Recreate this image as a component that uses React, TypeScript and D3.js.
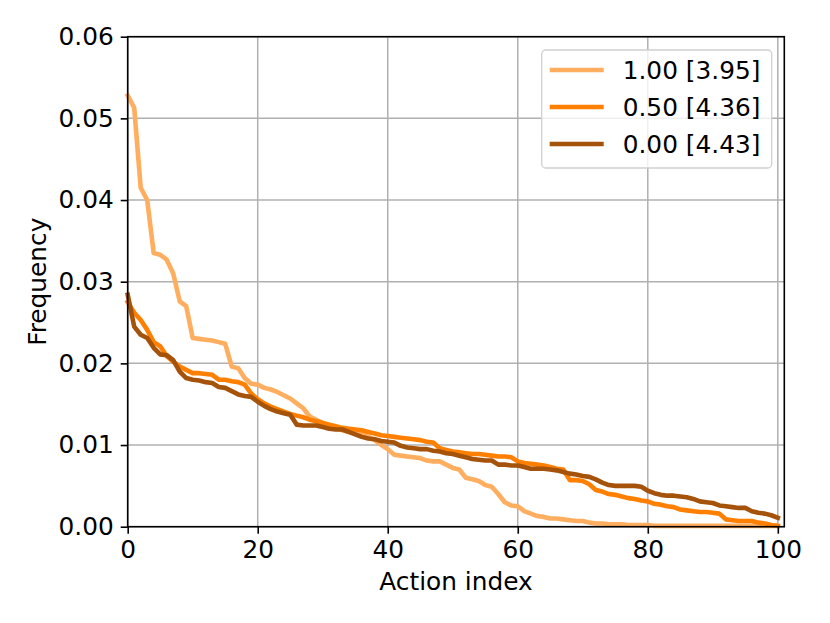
import { useRef, useEffect } from "react";
import * as d3 from "d3";

// frequency per action index (0..100), sorted descending, one array per setting
const freq100 = [
    0.0528, 0.0513, 0.0415, 0.04, 0.0335, 0.0333, 0.0327, 0.031, 0.0276, 0.027,
    0.0231, 0.023, 0.0229, 0.0228, 0.0226, 0.0224, 0.0196, 0.0194, 0.0182, 0.0175,
    0.0174, 0.017, 0.0168, 0.0165, 0.0161, 0.0157, 0.0151, 0.0145, 0.0135, 0.0131,
    0.0127, 0.0124, 0.0121, 0.0118, 0.0116, 0.0115, 0.0113, 0.011, 0.0106, 0.01,
    0.0095, 0.0088, 0.0087, 0.0086, 0.0085, 0.0084, 0.0081, 0.008, 0.008, 0.0076,
    0.0072, 0.007, 0.006, 0.0058, 0.0056, 0.0051, 0.0049, 0.004, 0.003, 0.0026,
    0.0025, 0.0019, 0.0016, 0.0013, 0.0012, 0.001, 0.001, 0.0009, 0.0008, 0.0007,
    0.0007, 0.0005, 0.0004, 0.0004, 0.0003, 0.0003, 0.0003, 0.0002, 0.0002, 0.0002,
    0.0002, 0.0001, 0.0001, 0.0001, 0.0001, 0.0001, 0.0001, 0.0001, 0.0001, 0.0001,
    0.0001, 0.0001, 0.0001, 0.0001, 0.0001, 0.0001, 0.0001, 0.0001, 0.0001, 0.0001,
    0.0001,
];

const freq050 = [
    0.0275, 0.0262, 0.0253, 0.0241, 0.0226, 0.0221, 0.0209, 0.0202, 0.0196, 0.0192,
    0.0188, 0.0188, 0.0187, 0.0186, 0.018, 0.018, 0.0178, 0.0177, 0.0174, 0.0163,
    0.0156, 0.0151, 0.0147, 0.0144, 0.0141, 0.0138, 0.0136, 0.0134, 0.0131, 0.0129,
    0.0127, 0.0125, 0.0123, 0.0121, 0.012, 0.0119, 0.0118, 0.0116, 0.0114, 0.0112,
    0.0111, 0.011, 0.0109, 0.0108, 0.0107, 0.0106, 0.0104, 0.0103, 0.0096, 0.0094,
    0.0092, 0.0091, 0.009, 0.0089, 0.0089, 0.0088, 0.0087, 0.0086, 0.0086, 0.0085,
    0.008, 0.0078, 0.0077, 0.0076, 0.0075, 0.0073, 0.0071, 0.007, 0.0057, 0.0057,
    0.0056, 0.0052, 0.0045, 0.0043, 0.004, 0.0039, 0.0037, 0.0035, 0.0034, 0.0032,
    0.0031, 0.0028, 0.0027, 0.0025, 0.0024, 0.0021, 0.002, 0.0019, 0.0018, 0.0018,
    0.0017, 0.0016, 0.0009, 0.0008, 0.0007, 0.0007, 0.0007, 0.0005, 0.0004, 0.0002,
    0.0001,
];

const freq000 = [
    0.0284, 0.0245, 0.0235, 0.0231, 0.0219, 0.0211, 0.021, 0.0204, 0.019, 0.0182,
    0.018, 0.0179, 0.0177, 0.0176, 0.0171, 0.017, 0.0166, 0.0162, 0.016, 0.0159,
    0.0153, 0.0148, 0.0144, 0.0141, 0.0139, 0.0137, 0.0125, 0.0124, 0.0124, 0.0124,
    0.0122, 0.012, 0.0119, 0.0119, 0.0116, 0.0113, 0.011, 0.0108, 0.0107, 0.0105,
    0.0104, 0.0103, 0.0099, 0.0097, 0.0096, 0.0095, 0.0095, 0.0093, 0.0092, 0.009,
    0.0089, 0.0087, 0.0085, 0.0083, 0.0082, 0.0081, 0.0081, 0.0076, 0.0076, 0.0075,
    0.0075, 0.0073, 0.0071, 0.0071, 0.0071, 0.007, 0.0069, 0.0067, 0.0065, 0.0064,
    0.0062, 0.0061, 0.0058, 0.0054, 0.0051, 0.005, 0.005, 0.005, 0.005, 0.0049,
    0.0044, 0.0041, 0.0039, 0.0038, 0.0038, 0.0037, 0.0036, 0.0034, 0.0031, 0.003,
    0.0029, 0.0026, 0.0025, 0.0024, 0.0023, 0.0023, 0.0019, 0.0017, 0.0016, 0.0014,
    0.0011,
];

const seriesLabels = ["1.00 [3.95]", "0.50 [4.36]", "0.00 [4.43]"];
const seriesColors = ["#ffad5f", "#ff7f00", "#a5520a"];
const xTicks = [0, 20, 40, 60, 80, 100];
const yTicks = [0, 0.01, 0.02, 0.03, 0.04, 0.05, 0.06];

const App = () => {
    const svgRef = useRef<SVGSVGElement>(null);

    useEffect(() => {
        if (!svgRef.current) return;
        const svg = d3.select(svgRef.current);
        svg.selectAll("*").remove();

        const width = 830;
        const height = 623;
        const margin = { top: 36.7, right: 45.7, bottom: 96.3, left: 127.7 };
        const font = "DejaVu Sans, sans-serif";
        const fs = 24.8;

        const x = d3
            .scaleLinear()
            .domain([0, 101])
            .range([margin.left, width - margin.right]);
        const y = d3
            .scaleLinear()
            .domain([0, 0.06])
            .range([height - margin.bottom, margin.top]);

        svg.attr("width", width).attr("height", height);

        // grid
        const grid = svg.append("g");
        grid.selectAll(".gx")
            .data(xTicks)
            .enter()
            .append("line")
            .attr("x1", (d) => x(d))
            .attr("x2", (d) => x(d))
            .attr("y1", y(0))
            .attr("y2", y(0.06))
            .attr("stroke", "#b0b0b0")
            .attr("stroke-width", 1.5);
        grid.selectAll(".gy")
            .data(yTicks)
            .enter()
            .append("line")
            .attr("x1", x(0))
            .attr("x2", x(101))
            .attr("y1", (d) => y(d))
            .attr("y2", (d) => y(d))
            .attr("stroke", "#b0b0b0")
            .attr("stroke-width", 1.5);

        // lines
        const line = d3
            .line<number>()
            .x((_, i) => x(i))
            .y((d) => y(d));
        const allSeries = [freq100, freq050, freq000];
        const plot = svg.append("g");
        allSeries.forEach((s, k) => {
            plot.append("path")
                .datum(s)
                .attr("d", line)
                .attr("fill", "none")
                .attr("stroke", seriesColors[k])
                .attr("stroke-width", 4.6)
                .attr("stroke-linejoin", "round")
                .attr("stroke-linecap", "square");
        });

        // axes
        const xAxis = svg
            .append("g")
            .attr("transform", `translate(0, ${y(0)})`)
            .call(
                d3.axisBottom(x).tickValues(xTicks).tickSize(7).tickPadding(7)
            );
        const yAxis = svg
            .append("g")
            .attr("transform", `translate(${x(0)}, 0)`)
            .call(
                d3
                    .axisLeft(y)
                    .tickValues(yTicks)
                    .tickFormat(d3.format(".2f"))
                    .tickSize(7)
                    .tickPadding(7)
            );
        [xAxis, yAxis].forEach((a) => {
            a.select(".domain").remove();
            a.selectAll("line").attr("stroke", "#000").attr("stroke-width", 1.6);
            a.selectAll("text")
                .attr("font-family", font)
                .attr("font-size", fs)
                .attr("fill", "#000");
        });

        // frame
        svg.append("rect")
            .attr("x", x(0))
            .attr("y", y(0.06))
            .attr("width", x(101) - x(0))
            .attr("height", y(0) - y(0.06))
            .attr("fill", "none")
            .attr("stroke", "#000")
            .attr("stroke-width", 1.6);

        // axis labels
        svg.append("text")
            .attr("x", (x(0) + x(101)) / 2)
            .attr("y", 590)
            .attr("text-anchor", "middle")
            .attr("font-family", font)
            .attr("font-size", fs)
            .text("Action index");
        svg.append("text")
            .attr("transform", `translate(46, ${(y(0) + y(0.06)) / 2}) rotate(-90)`)
            .attr("text-anchor", "middle")
            .attr("font-family", font)
            .attr("font-size", fs)
            .text("Frequency");

        // legend
        const legend = svg.append("g").attr("transform", "translate(541.7, 50)");
        legend
            .append("rect")
            .attr("width", 230)
            .attr("height", 118)
            .attr("rx", 4)
            .attr("fill", "rgba(255,255,255,0.8)")
            .attr("stroke", "#d0d0d0")
            .attr("stroke-width", 1.3);
        seriesLabels.forEach((lab, k) => {
            const ly = 20 + k * 37;
            legend
                .append("line")
                .attr("x1", 8)
                .attr("x2", 62)
                .attr("y1", ly)
                .attr("y2", ly)
                .attr("stroke", seriesColors[k])
                .attr("stroke-width", 4.6);
            legend
                .append("text")
                .attr("x", 81)
                .attr("y", ly + 9)
                .attr("font-family", font)
                .attr("font-size", fs)
                .text(lab);
        });
    }, []);

    return (
        <div style={{ position: "absolute", left: 0, top: 0 }}>
            <svg ref={svgRef} />
        </div>
    );
};

export default App;
